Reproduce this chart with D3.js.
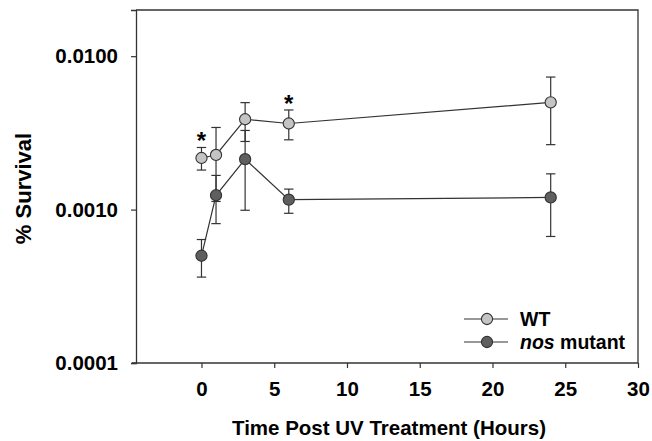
<!DOCTYPE html>
<html>
<head>
<meta charset="utf-8">
<script src="https://cdn.jsdelivr.net/npm/d3@7"></script>
<style>
  body { margin: 0; background: #fff; }
  svg { display: block; font-family: Arial, "Liberation Sans", sans-serif; }
</style>
</head>
<body>
<div id="chart"></div>
<script>
const hours = [0, 1, 3, 6, 24];
const wtMean = [0.00217, 0.00227, 0.00388, 0.00364, 0.00500];
const wtHi   = [0.00254, 0.00343, 0.00498, 0.00446, 0.00731];
const wtLo   = [0.00181, 0.00113, 0.00278, 0.00285, 0.00265];
const nosMean = [0.00050, 0.00124, 0.00213, 0.00116, 0.00120];
const nosHi   = [0.000638, 0.00167, 0.00328, 0.00136, 0.00171];
const nosLo   = [0.000363, 0.00081, 0.00099, 0.000946, 0.000668];
const starHours = [0, 6];
const xTicks = [0, 5, 10, 15, 20, 25, 30];
const yTicks = [0.0001, 0.001, 0.01];

const W = 652, H = 441;
const m = { t: 10, r: 14, b: 78, l: 136 };
const x = d3.scaleLinear().domain([-4.5, 30]).range([m.l, W - m.r]);
const y = d3.scaleLog().domain([0.0001, 0.02]).range([H - m.b, m.t]);

const svg = d3.select('#chart').append('svg').attr('width', W).attr('height', H);
const ink = '#333';
const font = 'Arial, "Liberation Sans", sans-serif';

// frame (top + right)
svg.append('path')
  .attr('d', `M${m.l},${m.t}H${W - m.r}V${H - m.b}`)
  .attr('fill', 'none').attr('stroke', ink).attr('stroke-width', 1.3);

const xAxis = svg.append('g').attr('transform', `translate(0,${H - m.b})`)
  .call(d3.axisBottom(x).tickValues(xTicks).tickFormat(d3.format('d')).tickSize(5).tickPadding(13));
const yAxis = svg.append('g').attr('transform', `translate(${m.l},0)`)
  .call(d3.axisLeft(y).tickValues(yTicks).tickFormat(d3.format('.4f')).tickSize(5).tickPadding(13));
[xAxis, yAxis].forEach(a => {
  a.attr('font-family', font).attr('font-size', 20.5);
  a.select('.domain').attr('stroke', ink).attr('stroke-width', 1.3);
  a.selectAll('.tick line').attr('stroke', ink).attr('stroke-width', 1.2);
  a.selectAll('.tick text').attr('fill', '#000').attr('font-weight', 'bold');
});
// bottom axis runs a little past the y axis, as in the original
xAxis.select('.domain').attr('d', `M${m.l - 4},0H${W - m.r}`);

svg.append('text').attr('x', 389).attr('y', 435)
  .attr('text-anchor', 'middle').attr('font-size', 20.5).attr('font-weight', 'bold')
  .text('Time Post UV Treatment (Hours)');
svg.append('text').attr('transform', `translate(31,${(m.t + H - m.b) / 2 + 2}) rotate(-90)`)
  .attr('text-anchor', 'middle').attr('font-size', 22).attr('font-weight', 'bold')
  .text('% Survival');

const series = [
  { name: 'WT', mean: wtMean, hi: wtHi, lo: wtLo, fill: '#c4c4c4' },
  { name: 'nos', mean: nosMean, hi: nosHi, lo: nosLo, fill: '#5f5f5f' }
];

const line = d3.line().x(d => x(d.h)).y(d => y(d.v));
const cap = 4.7;

series.forEach(s => {
  const pts = hours.map((h, i) => ({ h, v: s.mean[i], hi: s.hi[i], lo: s.lo[i] }));
  svg.append('path').datum(pts).attr('d', line)
    .attr('fill', 'none').attr('stroke', ink).attr('stroke-width', 1.2);
  const eb = svg.append('g').selectAll('g').data(pts).join('g')
    .attr('stroke', ink).attr('stroke-width', 1.2);
  eb.append('line').attr('x1', d => x(d.h)).attr('x2', d => x(d.h))
    .attr('y1', d => y(d.hi)).attr('y2', d => y(d.lo));
  eb.append('line').attr('x1', d => x(d.h) - cap).attr('x2', d => x(d.h) + cap)
    .attr('y1', d => y(d.hi)).attr('y2', d => y(d.hi));
  eb.append('line').attr('x1', d => x(d.h) - cap).attr('x2', d => x(d.h) + cap)
    .attr('y1', d => y(d.lo)).attr('y2', d => y(d.lo));
  s.pts = pts;
});
series.forEach(s => {
  svg.append('g').selectAll('circle').data(s.pts).join('circle')
    .attr('cx', d => x(d.h)).attr('cy', d => y(d.v)).attr('r', 5.6)
    .attr('fill', s.fill).attr('stroke', ink).attr('stroke-width', 1.1);
});

// significance stars
svg.append('g').selectAll('text').data(starHours).join('text')
  .attr('x', d => x(d)).attr('y', d => y(wtHi[hours.indexOf(d)]) + 2)
  .attr('text-anchor', 'middle').attr('font-size', 24).attr('font-weight', 'bold')
  .text('*');

// legend
const leg = svg.append('g').attr('transform', 'translate(464,319)');
series.forEach((s, i) => {
  const g = leg.append('g').attr('transform', `translate(0,${i * 23})`);
  g.append('line').attr('x1', 0).attr('x2', 44).attr('stroke', ink).attr('stroke-width', 1.2);
  g.append('circle').attr('cx', 23).attr('r', 5.6).attr('fill', s.fill).attr('stroke', ink).attr('stroke-width', 1.1);
  const t = g.append('text').attr('x', 56).attr('y', 7).attr('font-size', 19.5).attr('font-weight', 'bold');
  if (s.name === 'WT') t.text('WT');
  else { t.append('tspan').attr('font-style', 'italic').text('nos'); t.append('tspan').text(' mutant'); }
});
</script>
</body>
</html>
